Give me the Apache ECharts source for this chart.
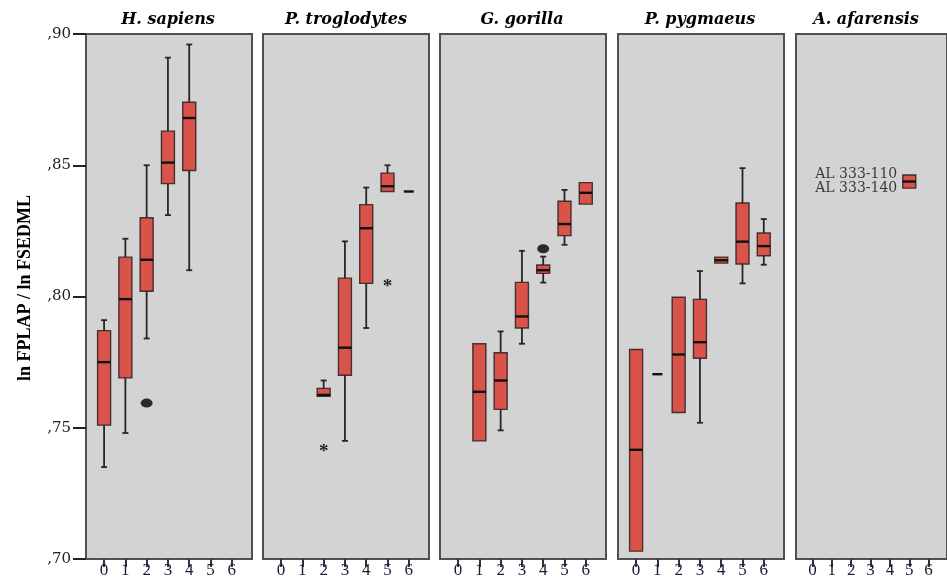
<!DOCTYPE html>
<html>
<head>
<meta charset="utf-8">
<script src="https://cdn.jsdelivr.net/npm/echarts@6/dist/echarts.min.js"></script>
<style>
html, body { margin: 0; padding: 0; background: #fff; }
#main { width: 947px; height: 586px; }
</style>
</head>
<body>
<div id="main"></div>
<script>
// categories on every panel
var categories = [0, 1, 2, 3, 4, 5, 6];
var species = ['H. sapiens', 'P. troglodytes', 'G. gorilla', 'P. pygmaeus', 'A. afarensis'];

// [category, lower whisker, Q1, median, Q3, upper whisker]
var sapiensBoxes = [
    [0, 0.735, 0.751, 0.775, 0.787, 0.791],
    [1, 0.748, 0.769, 0.799, 0.815, 0.822],
    [2, 0.784, 0.802, 0.814, 0.830, 0.850],
    [3, 0.831, 0.843, 0.851, 0.863, 0.891],
    [4, 0.810, 0.848, 0.868, 0.874, 0.896]
];
var troglodytesBoxes = [
    [2, 0.762, 0.762, 0.7625, 0.765, 0.768],
    [3, 0.745, 0.770, 0.7805, 0.807, 0.821],
    [4, 0.788, 0.805, 0.826, 0.835, 0.8415],
    [5, 0.840, 0.840, 0.842, 0.847, 0.850],
    [6, 0.840, 0.840, 0.840, 0.840, 0.840]
];
var gorillaBoxes = [
    [1, 0.745, 0.745, 0.7637, 0.782, 0.782],
    [2, 0.749, 0.757, 0.768, 0.7786, 0.7867],
    [3, 0.782, 0.788, 0.7924, 0.8054, 0.8174],
    [4, 0.8053, 0.8088, 0.8100, 0.812, 0.8152],
    [5, 0.8197, 0.8232, 0.8276, 0.8363, 0.8406],
    [6, 0.8352, 0.8352, 0.8395, 0.8434, 0.8434]
];
var pygmaeusBoxes = [
    [0, 0.703, 0.703, 0.7416, 0.7798, 0.7798],
    [1, 0.7704, 0.7704, 0.7704, 0.7704, 0.7704],
    [2, 0.7558, 0.7558, 0.7779, 0.7997, 0.7997],
    [3, 0.7519, 0.7765, 0.7826, 0.7989, 0.8097],
    [4, 0.8127, 0.8127, 0.8138, 0.8150, 0.8150],
    [5, 0.8050, 0.8124, 0.8209, 0.8356, 0.8489],
    [6, 0.8121, 0.8155, 0.8192, 0.8242, 0.8295]
];
var afarensisBoxes = [
    [5, 0.8413, 0.8413, 0.8438, 0.8463, 0.8463]
];

// outliers (dots) and extremes (stars): [category, value]
var sapiensOutliers = [[2, 0.7594]];
var troglodytesExtremes = [[2, 0.7427], [5, 0.8054]];
var gorillaOutliers = [[4, 0.8182]];
var afarensisSpecimens = [[5, 0.8438]];
var afarensisNames = 'AL 333-110\nAL 333-140';

var allBoxes = [sapiensBoxes, troglodytesBoxes, gorillaBoxes, pygmaeusBoxes, afarensisBoxes];
var panelLeft = [86, 263, 440, 618, 796];
var titleX = [168, 346, 522, 700, 866];

var dom = document.getElementById('main');
var myChart = echarts.init(dom);

function renderBox(params, api) {
    var x = api.value(0);
    var lo = api.coord([x, api.value(1)]);
    var q1 = api.coord([x, api.value(2)]);
    var md = api.coord([x, api.value(3)]);
    var q3 = api.coord([x, api.value(4)]);
    var hi = api.coord([x, api.value(5)]);
    var cx = lo[0];
    var bw = 13, cw = 3;
    var wStyle = { stroke: '#262626', lineWidth: 1.8 };
    var children = [];
    if (lo[1] - q1[1] > 0.5) {
        children.push({ type: 'line', shape: { x1: cx, y1: q1[1], x2: cx, y2: lo[1] }, style: wStyle });
        children.push({ type: 'line', shape: { x1: cx - cw, y1: lo[1], x2: cx + cw, y2: lo[1] }, style: wStyle });
    }
    if (q3[1] - hi[1] > 0.5) {
        children.push({ type: 'line', shape: { x1: cx, y1: hi[1], x2: cx, y2: q3[1] }, style: wStyle });
        children.push({ type: 'line', shape: { x1: cx - cw, y1: hi[1], x2: cx + cw, y2: hi[1] }, style: wStyle });
    }
    if (q1[1] - q3[1] > 0.5) {
        children.push({
            type: 'rect',
            shape: { x: cx - bw / 2, y: q3[1], width: bw, height: q1[1] - q3[1] },
            style: { fill: '#d9534b', stroke: 'rgba(45,30,30,0.85)', lineWidth: 1.4 }
        });
        children.push({ type: 'line', shape: { x1: cx - bw / 2, y1: md[1], x2: cx + bw / 2, y2: md[1] }, style: { stroke: '#111', lineWidth: 2.4 } });
    } else {
        children.push({ type: 'line', shape: { x1: cx - 5, y1: md[1], x2: cx + 5, y2: md[1] }, style: { stroke: '#111', lineWidth: 2.4 } });
    }
    return { type: 'group', children: children };
}

function renderStar(params, api) {
    var p = api.coord([api.value(0), api.value(1)]);
    return {
        type: 'text',
        x: p[0], y: p[1] + 5,
        style: { text: '*', font: 'bold 19px "Liberation Serif"', fill: '#222', align: 'center', verticalAlign: 'middle' }
    };
}

var grids = [], xAxes = [], yAxes = [], series = [];
panelLeft.forEach(function (left, i) {
    grids.push({
        left: left, top: 34, width: 166, height: 525,
        show: true, backgroundColor: '#d3d3d3', borderColor: '#505050', borderWidth: 2
    });
    xAxes.push({
        gridIndex: i, type: 'value', min: -0.85, max: 6.95,
        axisLine: { show: false, onZero: false },
        splitLine: { show: false },
        axisTick: { show: true, customValues: categories, length: 8, lineStyle: { color: '#333', width: 2 } },
        axisLabel: { customValues: categories, margin: 3, fontFamily: 'Liberation Serif', fontSize: 17, color: '#1c1c3a' }
    });
    yAxes.push({
        gridIndex: i, type: 'value', min: 0.70, max: 0.90, interval: 0.05,
        axisLine: { show: false, onZero: false },
        splitLine: { show: false },
        axisTick: { show: i === 0, length: 13, lineStyle: { color: '#222', width: 2 } },
        axisLabel: {
            show: i === 0, margin: 15, fontFamily: 'DejaVu Serif', fontSize: 15, color: '#222',
            formatter: function (v) { return ',' + Math.round(v * 100); }
        }
    });
    series.push({
        type: 'custom', xAxisIndex: i, yAxisIndex: i,
        renderItem: renderBox, data: allBoxes[i], z: 3
    });
});

series.push({
    type: 'scatter', xAxisIndex: 0, yAxisIndex: 0,
    symbol: 'circle', symbolSize: [12, 9], itemStyle: { color: '#000' },
    data: sapiensOutliers, z: 4
});
series.push({
    type: 'custom', xAxisIndex: 1, yAxisIndex: 1,
    renderItem: renderStar, data: troglodytesExtremes, z: 4
});
series.push({
    type: 'scatter', xAxisIndex: 2, yAxisIndex: 2,
    symbol: 'circle', symbolSize: [12, 9], itemStyle: { color: '#000' },
    data: gorillaOutliers, z: 4
});
series.push({
    type: 'scatter', xAxisIndex: 4, yAxisIndex: 4,
    symbolSize: 0, data: afarensisSpecimens, z: 4,
    label: {
        show: true, position: 'left', distance: 12, formatter: afarensisNames,
        fontFamily: 'DejaVu Serif', fontSize: 14, lineHeight: 14, color: '#111'
    }
});

var graphics = species.map(function (name, i) {
    return {
        type: 'text', x: titleX[i], y: 20,
        style: {
            text: name, font: 'italic bold 16px "DejaVu Serif"', fill: '#000',
            align: 'center', verticalAlign: 'middle'
        }
    };
});
graphics.push({
    type: 'text', x: 25, y: 288, rotation: Math.PI / 2,
    style: {
        text: 'ln FPLAP / ln FSEDML', font: 'bold 18px "Liberation Serif"', fill: '#000',
        align: 'center', verticalAlign: 'middle'
    }
});

var option = {
    backgroundColor: '#fff',
    animation: false,
    grid: grids,
    xAxis: xAxes,
    yAxis: yAxes,
    graphic: graphics,
    series: series
};

myChart.setOption(option);
</script>
</body>
</html>
